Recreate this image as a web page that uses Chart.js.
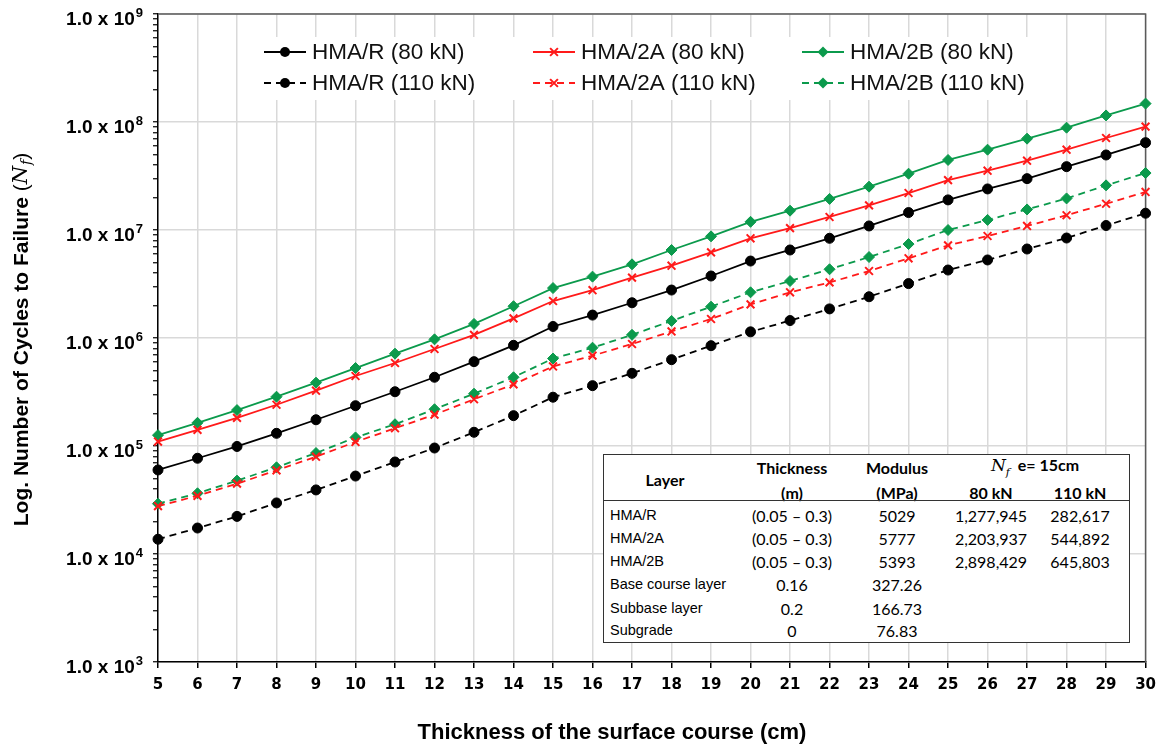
<!DOCTYPE html>
<html>
<head>
<meta charset="utf-8">
<script src="https://cdn.jsdelivr.net/npm/chart.js@4.4.1/dist/chart.umd.min.js"></script>
<style>
  html, body { margin: 0; padding: 0; background: #fff; }
  #wrap { position: relative; width: 1164px; height: 747px; overflow: hidden; }
  #chart { position: absolute; left: 0; top: 0; }
  #table { position: absolute; left: 603px; top: 454px; width: 525px; height: 187px;
           border: 1.5px solid #333; background: #fff; font-family: Lato, sans-serif; color: #000; }
  #table span { position: absolute; white-space: nowrap; transform: translate(-50%, -50%); }
  #table span.left { transform: translate(0, -50%); }
  #table .hd { font-weight: bold; font-size: 16px; }
  #table .nm { font-family: 'Liberation Sans', Arial, sans-serif; font-size: 14.5px; }
  #table .num { font-size: 16px; }
  #table .rule { position: absolute; left: 0; right: 0; top: 45px; border-top: 1.5px solid #333; }
  #table i { font-family: 'DejaVu Serif', serif; font-weight: normal; font-size: 17px; }
  #table sub { font-size: 11px; }
</style>
</head>
<body>
<div id="wrap">
  <canvas id="chart" width="1164" height="747"></canvas>
  <div id="table"></div>
</div>
<script>
// ── Data ────────────────────────────────────────────────────────────
const thickness = [5, 6, 7, 8, 9, 10, 11, 12, 13, 14, 15, 16, 17, 18, 19, 20, 21, 22, 23, 24, 25, 26, 27, 28, 29, 30];

const hmaR80  = [6.0e4, 7.7e4, 9.9e4, 1.31e5, 1.75e5, 2.36e5, 3.18e5, 4.33e5, 6.04e5, 8.55e5, 1.278e6, 1.63e6, 2.12e6, 2.78e6, 3.75e6, 5.16e6, 6.53e6, 8.38e6, 1.09e7, 1.45e7, 1.90e7, 2.40e7, 2.99e7, 3.86e7, 4.95e7, 6.44e7];
const hmaR110 = [1.37e4, 1.74e4, 2.23e4, 2.97e4, 3.92e4, 5.27e4, 7.11e4, 9.58e4, 1.34e5, 1.91e5, 2.83e5, 3.62e5, 4.71e5, 6.3e5, 8.49e5, 1.14e6, 1.45e6, 1.86e6, 2.41e6, 3.19e6, 4.26e6, 5.28e6, 6.67e6, 8.43e6, 1.10e7, 1.43e7];
const hma2A80  = [1.10e5, 1.41e5, 1.82e5, 2.41e5, 3.25e5, 4.45e5, 5.87e5, 7.91e5, 1.07e6, 1.52e6, 2.20e6, 2.77e6, 3.62e6, 4.67e6, 6.21e6, 8.38e6, 1.04e7, 1.32e7, 1.69e7, 2.20e7, 2.90e7, 3.54e7, 4.38e7, 5.54e7, 7.11e7, 9.05e7];
const hma2A110 = [2.78e4, 3.46e4, 4.48e4, 5.95e4, 7.96e4, 1.09e5, 1.46e5, 1.95e5, 2.71e5, 3.72e5, 5.45e5, 6.86e5, 8.80e5, 1.15e6, 1.50e6, 2.05e6, 2.65e6, 3.27e6, 4.17e6, 5.47e6, 7.21e6, 8.80e6, 1.09e7, 1.37e7, 1.75e7, 2.25e7];
const hma2B80  = [1.26e5, 1.64e5, 2.15e5, 2.86e5, 3.86e5, 5.27e5, 7.16e5, 9.72e5, 1.35e6, 1.97e6, 2.90e6, 3.70e6, 4.81e6, 6.53e6, 8.73e6, 1.19e7, 1.51e7, 1.94e7, 2.52e7, 3.32e7, 4.45e7, 5.54e7, 7.01e7, 8.86e7, 1.15e8, 1.48e8];
const hma2B110 = [2.92e4, 3.65e4, 4.78e4, 6.35e4, 8.61e4, 1.20e5, 1.59e5, 2.19e5, 3.05e5, 4.33e5, 6.46e5, 8.13e5, 1.07e6, 1.44e6, 1.95e6, 2.65e6, 3.37e6, 4.33e6, 5.62e6, 7.41e6, 1.00e7, 1.24e7, 1.55e7, 1.96e7, 2.59e7, 3.37e7];

// y decade labels: mantissa text + exponent (drawn as superscript)
const yTickExponents = [3, 4, 5, 6, 7, 8, 9];
const yTickMantissa = '1.0 x 10';

// inset table
const tblLayers   = ['HMA/R', 'HMA/2A', 'HMA/2B', 'Base course layer', 'Subbase layer', 'Subgrade'];
const tblThick    = ['(0.05 – 0.3)', '(0.05 – 0.3)', '(0.05 – 0.3)', '0.16', '0.2', '0'];
const tblModulus  = ['5029', '5777', '5393', '327.26', '166.73', '76.83'];
const tblNf80     = ['1,277,945', '2,203,937', '2,898,429', '', '', ''];
const tblNf110    = ['282,617', '544,892', '645,803', '', '', ''];

// ── Colours / styles ────────────────────────────────────────────────
const BLACK = '#000000', RED = '#ff1a1a', GREEN = '#0b9a4c';
const DASH = [7, 5];

function series(label, values, color, style, dashed) {
  return {
    label: label,
    data: thickness.map(function(t, i) { return { x: t, y: values[i] }; }),
    borderColor: color,
    backgroundColor: color,
    borderWidth: 1.8,
    borderDash: dashed ? DASH : [],
    pointStyle: style,
    pointRadius: style === 'circle' ? 5 : 5.5,
    pointBorderWidth: style === 'crossRot' ? 2 : 1,
    pointBackgroundColor: color,
    pointBorderColor: color,
    clip: false,
    tension: 0
  };
}

const datasets = [
  series('HMA/R (80 kN)',   hmaR80,   BLACK, 'circle',   false),
  series('HMA/R (110 kN)',  hmaR110,  BLACK, 'circle',   true),
  series('HMA/2A (80 kN)',  hma2A80,  RED,   'crossRot', false),
  series('HMA/2A (110 kN)', hma2A110, RED,   'crossRot', true),
  series('HMA/2B (80 kN)',  hma2B80,  GREEN, 'rectRot',  false),
  series('HMA/2B (110 kN)', hma2B110, GREEN, 'rectRot',  true)
];

function isDecade(v) {
  const l = Math.log10(v);
  return Math.abs(l - Math.round(l)) < 1e-9;
}

// ── Plugins ─────────────────────────────────────────────────────────
function drawMarker(ctx, ds, x, y) {
  const r = ds.pointRadius;
  ctx.save();
  ctx.setLineDash([]);
  ctx.fillStyle = ds.pointBackgroundColor;
  ctx.strokeStyle = ds.pointBorderColor;
  ctx.lineWidth = ds.pointBorderWidth;
  ctx.beginPath();
  if (ds.pointStyle === 'circle') {
    ctx.arc(x, y, r, 0, Math.PI * 2);
    ctx.fill();
  } else if (ds.pointStyle === 'crossRot') {
    const d = r * Math.SQRT1_2;
    ctx.moveTo(x - d, y - d); ctx.lineTo(x + d, y + d);
    ctx.moveTo(x + d, y - d); ctx.lineTo(x - d, y + d);
    ctx.stroke();
  } else {
    ctx.moveTo(x, y - r); ctx.lineTo(x + r, y); ctx.lineTo(x, y + r); ctx.lineTo(x - r, y);
    ctx.closePath();
    ctx.fill();
  }
  ctx.restore();
}

const frame = {
  id: 'frame',
  beforeDatasetsDraw(chart) {
    const a = chart.chartArea, ctx = chart.ctx;
    ctx.save();
    ctx.strokeStyle = '#5a5a5a';
    ctx.lineWidth = 1.5;
    ctx.beginPath();
    ctx.moveTo(a.left, a.top); ctx.lineTo(a.right, a.top); ctx.lineTo(a.right, a.bottom);
    ctx.stroke();
    ctx.restore();
  }
};

// y decade labels with real superscript exponents, placed by the y scale
const yLabels = {
  id: 'yLabels',
  afterDraw(chart) {
    const ctx = chart.ctx, ys = chart.scales.y;
    const right = chart.chartArea.left - 15;
    ctx.save();
    ctx.fillStyle = '#000';
    ctx.textBaseline = 'alphabetic';
    ctx.textAlign = 'left';
    yTickExponents.forEach(function(e) {
      const y = ys.getPixelForValue(Math.pow(10, e)) + 4;
      ctx.font = 'bold 13px "Liberation Sans", Arial, sans-serif';
      const ew = ctx.measureText(String(e)).width;
      ctx.font = 'bold 19px "Liberation Sans", Arial, sans-serif';
      const mw = ctx.measureText(yTickMantissa).width;
      const x0 = right - ew - mw - 1;
      ctx.fillText(yTickMantissa, x0, y + 7);
      ctx.font = 'bold 13px "Liberation Sans", Arial, sans-serif';
      ctx.fillText(String(e), x0 + mw + 1, y - 1);
    });
    ctx.restore();
  }
};

const LEGEND_COL_X = [264, 533, 802];
const LEGEND_ROW_Y = [52, 83];
const boxLegend = {
  id: 'boxLegend',
  afterDraw(chart) {
    const ctx = chart.ctx;
    ctx.save();
    ctx.fillStyle = '#fff';
    ctx.fillRect(255, 37, 780, 63);
    chart.data.datasets.forEach(function(ds, i) {
      const x0 = LEGEND_COL_X[Math.floor(i / 2)], y = LEGEND_ROW_Y[i % 2];
      ctx.strokeStyle = ds.borderColor;
      ctx.lineWidth = ds.borderWidth;
      ctx.setLineDash(ds.borderDash);
      ctx.beginPath();
      ctx.moveTo(x0, y); ctx.lineTo(x0 + 42, y);
      ctx.stroke();
      ctx.setLineDash([]);
      drawMarker(ctx, ds, x0 + 21, y);
      ctx.fillStyle = '#111';
      ctx.font = '22.5px "Liberation Sans", Arial, sans-serif';
      ctx.textBaseline = 'middle';
      ctx.textAlign = 'left';
      ctx.fillText(ds.label, x0 + 48, y + 1);
    });
    ctx.restore();
  }
};

const axisTitles = {
  id: 'axisTitles',
  afterDraw(chart) {
    const ctx = chart.ctx;
    ctx.save();
    ctx.fillStyle = '#000';
    ctx.textBaseline = 'middle';
    ctx.textAlign = 'center';
    ctx.font = 'bold 22px "Liberation Sans", Arial, sans-serif';
    ctx.fillText('Thickness of the surface course (cm)', 612, 733);

    // rotated y title with italic N subscript f
    const parts = [
      { t: 'Log. Number of Cycles to Failure ', f: 'bold 21px "Liberation Sans", Arial, sans-serif', dy: 0 },
      { t: '(', f: '21px "Liberation Sans", Arial, sans-serif', dy: 0 },
      { t: 'N', f: 'italic 21px "DejaVu Serif", serif', dy: 0 },
      { t: 'f', f: 'italic 14px "DejaVu Serif", serif', dy: 5 },
      { t: ')', f: '21px "Liberation Sans", Arial, sans-serif', dy: 0 }
    ];
    let w = 0;
    parts.forEach(function(p) { ctx.font = p.f; p.w = ctx.measureText(p.t).width; w += p.w; });
    ctx.translate(22, 340);
    ctx.rotate(-Math.PI / 2);
    ctx.textAlign = 'left';
    let x = -w / 2;
    parts.forEach(function(p) { ctx.font = p.f; ctx.fillText(p.t, x, p.dy); x += p.w + (p.t === 'N' ? 1 : 0); });
    ctx.restore();
  }
};

// ── Chart ───────────────────────────────────────────────────────────
new Chart(document.getElementById('chart'), {
  type: 'line',
  data: { datasets: datasets },
  options: {
    responsive: false,
    animation: false,
    devicePixelRatio: 1,
    layout: { padding: { top: 14, right: 17, left: 0, bottom: 0 } },
    plugins: { legend: { display: false }, tooltip: { enabled: false } },
    scales: {
      x: {
        type: 'linear', min: 5, max: 30,
        afterFit: function(s) { s.height = 85; },
        ticks: {
          stepSize: 1, autoSkip: false, maxRotation: 0, padding: 8, color: '#000',
          font: { family: '"DejaVu Sans", sans-serif', weight: 'bold', size: 15 }
        },
        grid: { color: '#d9d9d9', lineWidth: 1.5, tickColor: '#000', tickLength: 6, tickWidth: 1.5 },
        border: { color: '#000', width: 1.5 }
      },
      y: {
        type: 'logarithmic', min: 1e3, max: 1e9,
        afterFit: function(s) { s.width = 158; },
        afterBuildTicks: function(s) {
          const t = [];
          for (let e = 3; e <= 9; e++) {
            for (let m = 1; m <= 9; m++) {
              if (e === 9 && m > 1) break;
              t.push({ value: m * Math.pow(10, e) });
            }
          }
          s.ticks = t;
        },
        ticks: { autoSkip: false, callback: function() { return ''; } },
        grid: {
          color: function(c) { return c.tick && isDecade(c.tick.value) ? '#d9d9d9' : 'rgba(0,0,0,0)'; },
          lineWidth: 1.5, tickColor: '#000', tickLength: 5, tickWidth: 1.2
        },
        border: { color: '#000', width: 1.5 }
      }
    }
  },
  plugins: [frame, yLabels, boxLegend, axisTitles]
});

// ── Inset table ─────────────────────────────────────────────────────
(function buildTable() {
  const t = document.getElementById('table');
  const COL = { name: 6, thick: 188, mod: 293, n80: 387, n110: 476, layer: 61, nf: 431 };
  const ROWS = [60, 83, 106, 129, 153, 175];
  function cell(text, x, y, cls, left) {
    const s = document.createElement('span');
    s.className = cls + (left ? ' left' : '');
    s.style.left = x + 'px';
    s.style.top = y + 'px';
    s.innerHTML = text;
    t.appendChild(s);
  }
  cell('Layer', COL.layer, 24, 'hd');
  cell('Thickness', COL.thick, 12, 'hd');
  cell('(m)', COL.thick, 37, 'hd');
  cell('Modulus', COL.mod, 12, 'hd');
  cell('(MPa)', COL.mod, 37, 'hd');
  cell('<i>N<sub>f</sub></i>&nbsp; e= 15cm', COL.nf, 12, 'hd');
  cell('80 kN', COL.n80, 37, 'hd');
  cell('110 kN', COL.n110, 37, 'hd');
  const rule = document.createElement('div');
  rule.className = 'rule';
  t.appendChild(rule);
  tblLayers.forEach(function(name, i) {
    cell(name, COL.name, ROWS[i], 'nm', true);
    cell(tblThick[i], COL.thick, ROWS[i], 'num');
    cell(tblModulus[i], COL.mod, ROWS[i], 'num');
    if (tblNf80[i]) cell(tblNf80[i], COL.n80, ROWS[i], 'num');
    if (tblNf110[i]) cell(tblNf110[i], COL.n110, ROWS[i], 'num');
  });
})();
</script>
</body>
</html>
